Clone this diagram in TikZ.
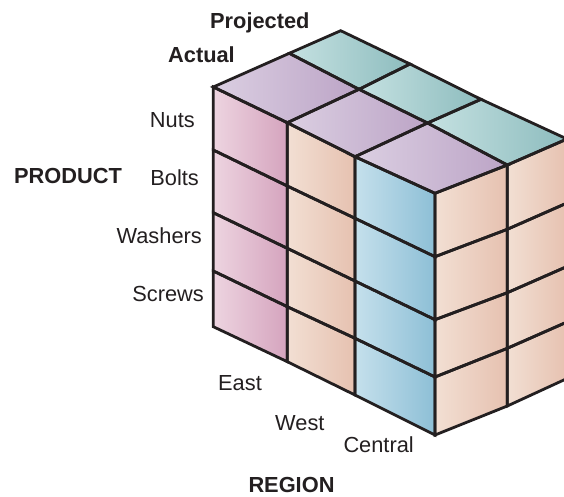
\documentclass[tikz,border=0pt]{standalone}
\usepackage{fontspec}
\setmainfont{Liberation Sans}
\definecolor{ink}{RGB}{35,31,32}
\definecolor{pkL}{RGB}{237,212,224}
\definecolor{pkR}{RGB}{213,164,190}
\definecolor{pcL}{RGB}{242,223,211}
\definecolor{pcR}{RGB}{230,193,176}
\definecolor{blL}{RGB}{197,224,236}
\definecolor{blR}{RGB}{141,191,214}
\definecolor{puL}{RGB}{219,207,226}
\definecolor{puR}{RGB}{188,164,198}
\definecolor{teL}{RGB}{197,225,225}
\definecolor{teR}{RGB}{141,188,190}
\tikzset{
  cellline/.style={draw=ink, line width=2.8pt, line join=miter},
  lbl/.style={inner sep=0pt, text=ink, font=\fontsize{21.8}{25}\selectfont},
  blbl/.style={lbl, font=\fontsize{21.8}{25}\selectfont\bfseries},
}
\begin{document}
\begin{tikzpicture}[x=1pt,y=-1pt]
\useasboundingbox (0,0) rectangle (564,496);
\clip (0,0) rectangle (564,496);
% front face (k=0): column i, row j
\coordinate (f-0-0) at (213.3,87);   \coordinate (f-0-1) at (213.3,150);
\coordinate (f-0-2) at (213.3,212.7);\coordinate (f-0-3) at (213.3,271);
\coordinate (f-0-4) at (213.3,326.7);
\coordinate (f-1-0) at (287.3,122.7);\coordinate (f-1-1) at (287.3,186);
\coordinate (f-1-2) at (287.3,248.3);\coordinate (f-1-3) at (287.3,306.7);
\coordinate (f-1-4) at (287.3,361.7);
\coordinate (f-2-0) at (355,156.7);  \coordinate (f-2-1) at (355,218.3);
\coordinate (f-2-2) at (355,281);    \coordinate (f-2-3) at (355,338.3);
\coordinate (f-2-4) at (355,395);
\coordinate (f-3-0) at (435,193.3);  \coordinate (f-3-1) at (435,256.7);
\coordinate (f-3-2) at (435,319.7);  \coordinate (f-3-3) at (435,377);
\coordinate (f-3-4) at (435,435);
% right face: depth k, row j
\foreach \j in {0,...,4} {\coordinate (r-0-\j) at (f-3-\j);}
\coordinate (r-1-0) at (507.3,165);  \coordinate (r-1-1) at (507.3,229.3);
\coordinate (r-1-2) at (507.3,292.7);\coordinate (r-1-3) at (507.3,348.3);
\coordinate (r-1-4) at (507.3,406);
\coordinate (r-2-0) at (567,139);    \coordinate (r-2-1) at (567,203);
\coordinate (r-2-2) at (567,266.5);  \coordinate (r-2-3) at (567,322);
\coordinate (r-2-4) at (567,378.5);
% top face: column i, depth k
\foreach \i in {0,...,3} {\coordinate (t-\i-0) at (f-\i-0);}
\coordinate (t-0-1) at (289.3,53.3); \coordinate (t-1-1) at (359,89.3);
\coordinate (t-2-1) at (427.5,123);  \coordinate (t-3-1) at (r-1-0);
\coordinate (t-0-2) at (340.7,30.7); \coordinate (t-1-2) at (410,64);
\coordinate (t-2-2) at (481,99.3);   \coordinate (t-3-2) at (r-2-0);
% fills
\foreach \i/\ni/\c in {0/1/pk,1/2/pc,2/3/bl} {
  \foreach \j/\nj in {0/1,1/2,2/3,3/4} {
    \shade[left color=\c L, right color=\c R] (f-\i-\j) -- (f-\ni-\j) -- (f-\ni-\nj) -- (f-\i-\nj) -- cycle;
  }
}
\foreach \k/\nk in {0/1,1/2} {
  \foreach \j/\nj in {0/1,1/2,2/3,3/4} {
    \shade[left color=pcL, right color=pcR] (r-\k-\j) -- (r-\nk-\j) -- (r-\nk-\nj) -- (r-\k-\nj) -- cycle;
  }
}
\foreach \k/\nk/\c in {0/1/pu,1/2/te} {
  \foreach \i/\ni in {0/1,1/2,2/3} {
    \shade[left color=\c L, right color=\c R] (t-\i-\k) -- (t-\ni-\k) -- (t-\ni-\nk) -- (t-\i-\nk) -- cycle;
  }
}
% lines
\foreach \i/\ni in {0/1,1/2,2/3} {
  \foreach \j/\nj in {0/1,1/2,2/3,3/4} {
    \draw[cellline] (f-\i-\j) -- (f-\ni-\j) -- (f-\ni-\nj) -- (f-\i-\nj) -- cycle;
  }
}
\foreach \k/\nk in {0/1,1/2} {
  \foreach \j/\nj in {0/1,1/2,2/3,3/4} {
    \draw[cellline] (r-\k-\j) -- (r-\nk-\j) -- (r-\nk-\nj) -- (r-\k-\nj) -- cycle;
  }
}
\foreach \k/\nk in {0/1,1/2} {
  \foreach \i/\ni in {0/1,1/2,2/3} {
    \draw[cellline] (t-\i-\k) -- (t-\ni-\k) -- (t-\ni-\nk) -- (t-\i-\nk) -- cycle;
  }
}
% labels
\node[blbl, anchor=base west] (projected) at (210,28) {Projected};
\node[blbl, anchor=base east] (actual) at (235,62) {Actual};
\node[blbl, anchor=base west] (product) at (14,183) {PRODUCT};
\node[lbl, anchor=base east] (nuts) at (195,127) {Nuts};
\node[lbl, anchor=base east] (bolts) at (199,185) {Bolts};
\node[lbl, anchor=base east] (washers) at (202,243.5) {Washers};
\node[lbl, anchor=base east] (screws) at (204,301.7) {Screws};
\node[lbl, anchor=base west] (east) at (218,390) {East};
\node[lbl, anchor=base west] (west) at (275,430) {West};
\node[lbl, anchor=base west] (central) at (343.3,452.7) {Central};
\node[blbl, anchor=base west] (region) at (248.3,492.7) {REGION};
\end{tikzpicture}
\end{document}
